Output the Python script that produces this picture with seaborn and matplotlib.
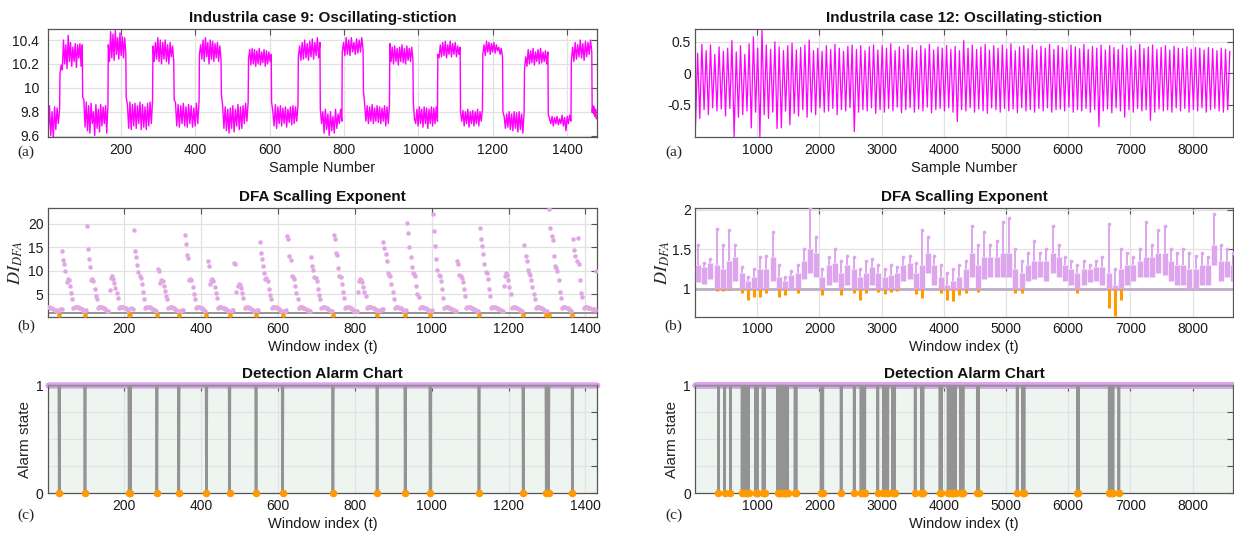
import numpy as np
import matplotlib
matplotlib.use("Agg")
import matplotlib.pyplot as plt
import seaborn as sns

# ---------------------------------------------------------------------------
# Industrial case 9: controller output, one list of values per plateau
# (low / high alternating), each plateau starting at the given sample.
# ---------------------------------------------------------------------------
case9_plateau_start = [1, 36, 97, 166, 214, 286, 343, 411, 470, 543, 605, 677, 736,
                       795, 852, 923, 986, 1052, 1113, 1173, 1227, 1285, 1349, 1411, 1467]
case9_last_sample = 1480
case9_plateaus = [
    [9.80, 9.62, 9.85, 9.60, 9.80, 9.58, 9.84, 9.65, 9.83, 9.70, 9.82],
    [10.12, 10.19, 10.15, 10.40, 10.20, 10.36, 10.16, 10.44, 10.22, 10.38, 10.18, 10.34, 10.22, 10.37, 10.17, 10.36, 10.25, 10.37, 10.18, 10.36],
    [9.92, 9.90, 9.67, 9.88, 9.64, 9.85, 9.62, 9.87, 9.70, 9.80, 9.60, 9.86, 9.66, 9.82, 9.63, 9.86, 9.68, 9.84, 9.70, 9.85, 9.62, 9.86],
    [10.36, 10.22, 10.47, 10.25, 10.45, 10.23, 10.48, 10.28, 10.42, 10.24, 10.46, 10.27, 10.43, 10.25, 10.42, 10.30],
    [9.92, 9.86, 9.66, 9.88, 9.65, 9.86, 9.68, 9.87, 9.66, 9.85, 9.70, 9.88, 9.65, 9.86, 9.67, 9.84, 9.65, 9.87, 9.68, 9.88, 9.70, 9.90],
    [10.35, 10.22, 10.38, 10.24, 10.42, 10.22, 10.40, 10.20, 10.38, 10.24, 10.40, 10.22, 10.36, 10.20, 10.38, 10.26, 10.35, 10.22],
    [9.90, 9.88, 9.68, 9.86, 9.67, 9.85, 9.70, 9.87, 9.68, 9.84, 9.67, 9.86, 9.70, 9.85, 9.67, 9.83, 9.68, 9.87, 9.70, 9.88],
    [10.28, 10.36, 10.24, 10.40, 10.22, 10.42, 10.26, 10.38, 10.20, 10.40, 10.24, 10.39, 10.22, 10.37, 10.25, 10.38, 10.22, 10.35, 10.24],
    [9.95, 9.85, 9.66, 9.84, 9.64, 9.82, 9.62, 9.83, 9.66, 9.85, 9.63, 9.82, 9.68, 9.86, 9.65, 9.84, 9.66, 9.85, 9.70, 9.87, 9.72, 9.88],
    [10.24, 10.32, 10.19, 10.33, 10.20, 10.32, 10.18, 10.31, 10.20, 10.33, 10.19, 10.30, 10.21, 10.32, 10.18, 10.31, 10.20, 10.30, 10.22, 10.28],
    [9.88, 9.80, 9.68, 9.86, 9.66, 9.84, 9.70, 9.85, 9.68, 9.83, 9.70, 9.84, 9.67, 9.82, 9.71, 9.84, 9.69, 9.85, 9.70, 9.84, 9.72, 9.86],
    [10.26, 10.35, 10.23, 10.38, 10.24, 10.40, 10.25, 10.37, 10.23, 10.39, 10.26, 10.41, 10.24, 10.38, 10.27, 10.42, 10.25, 10.38],
    [9.82, 9.70, 9.80, 9.62, 9.82, 9.65, 9.78, 9.60, 9.80, 9.64, 9.76, 9.62, 9.82, 9.66, 9.78, 9.70, 9.82, 9.72],
    [10.30, 10.38, 10.27, 10.42, 10.28, 10.40, 10.27, 10.42, 10.30, 10.38, 10.28, 10.41, 10.29, 10.40, 10.30, 10.42, 10.32],
    [9.97, 9.86, 9.72, 9.85, 9.70, 9.84, 9.72, 9.86, 9.70, 9.83, 9.72, 9.85, 9.71, 9.84, 9.70, 9.83, 9.72, 9.85, 9.68, 9.84, 9.70, 9.85],
    [10.37, 10.22, 10.34, 10.20, 10.35, 10.22, 10.33, 10.19, 10.34, 10.22, 10.36, 10.21, 10.33, 10.20, 10.35, 10.23, 10.33, 10.22, 10.34, 10.24],
    [9.88, 9.74, 9.70, 9.82, 9.68, 9.84, 9.70, 9.82, 9.67, 9.84, 9.70, 9.83, 9.66, 9.82, 9.70, 9.84, 9.68, 9.83, 9.70, 9.84, 9.72],
    [10.28, 10.25, 10.36, 10.26, 10.38, 10.27, 10.39, 10.25, 10.36, 10.28, 10.39, 10.26, 10.37, 10.28, 10.38, 10.26, 10.35, 10.28, 10.34],
    [9.80, 9.72, 9.81, 9.68, 9.80, 9.70, 9.82, 9.67, 9.80, 9.70, 9.81, 9.68, 9.80, 9.70, 9.82, 9.68, 9.80, 9.72, 9.82],
    [10.28, 10.36, 10.27, 10.39, 10.30, 10.38, 10.28, 10.37, 10.30, 10.38, 10.29, 10.36, 10.31, 10.34, 10.28, 10.33, 10.26],
    [9.80, 9.76, 9.66, 9.78, 9.67, 9.80, 9.65, 9.78, 9.64, 9.80, 9.66, 9.79, 9.63, 9.80, 9.65, 9.78, 9.62, 9.80],
    [10.15, 10.26, 10.18, 10.32, 10.20, 10.31, 10.21, 10.33, 10.19, 10.30, 10.22, 10.32, 10.20, 10.33, 10.21, 10.30, 10.22, 10.31, 10.20, 10.30],
    [9.78, 9.74, 9.70, 9.76, 9.68, 9.75, 9.70, 9.76, 9.69, 9.74, 9.70, 9.77, 9.68, 9.75, 9.64, 9.76, 9.70, 9.77, 9.72],
    [10.22, 10.34, 10.22, 10.38, 10.24, 10.36, 10.26, 10.40, 10.25, 10.37, 10.23, 10.39, 10.26, 10.38, 10.28, 10.40, 10.30],
    [9.80, 9.85, 9.78, 9.84, 9.76, 9.82, 9.74, 9.75],
]

# ---------------------------------------------------------------------------
# Industrial case 12: controller output, trough and peak of every cycle
# ---------------------------------------------------------------------------
case12_cycle_len = 69
case12_peaks = [
    0.32, 0.46, 0.36, 0.45, 0.30, 0.42, 0.35, 0.40, 0.52, 0.34,
    0.44, 0.30, 0.47, 0.58, 0.40, 0.69, 0.45, 0.38, 0.50, 0.42,
    0.36, 0.44, 0.48, 0.37, 0.41, 0.45, 0.53, 0.36, 0.40, 0.35,
    0.44, 0.38, 0.46, 0.40, 0.35, 0.43, 0.45, 0.38, 0.44, 0.36,
    0.42, 0.45, 0.37, 0.44, 0.40, 0.47, 0.36, 0.42, 0.38, 0.45,
    0.41, 0.36, 0.44, 0.39, 0.46, 0.37, 0.42, 0.40, 0.44, 0.38,
    0.43, 0.36, 0.52, 0.40, 0.45, 0.38, 0.42, 0.46, 0.37, 0.44,
    0.40, 0.45, 0.38, 0.47, 0.36, 0.42, 0.44, 0.39, 0.45, 0.37,
    0.43, 0.40, 0.46, 0.38, 0.44, 0.41, 0.37, 0.45, 0.42, 0.39,
    0.46, 0.38, 0.43, 0.40, 0.45, 0.37, 0.44, 0.41, 0.38, 0.45,
    0.40, 0.43, 0.37, 0.46, 0.39, 0.42, 0.45, 0.38, 0.41, 0.44,
    0.37, 0.43, 0.40, 0.39, 0.42, 0.38, 0.41, 0.40, 0.37, 0.41,
    0.39, 0.36, 0.40, 0.38, 0.35,
]
case12_troughs = [
    -0.84, -0.72, -0.58, -0.66, -0.55, -0.60, -0.57, -0.68, -0.56, -1.01,
    -0.70, -0.66, -0.60, -0.87, -0.62, -1.01, -0.66, -0.72, -0.62, -0.88,
    -0.87, -0.60, -0.82, -0.64, -0.68, -0.58, -0.70, -0.62, -0.66, -0.55,
    -0.62, -0.60, -0.56, -0.66, -0.58, -0.60, -0.55, -0.93, -0.62, -0.58,
    -0.60, -0.55, -0.64, -0.58, -0.62, -0.56, -0.60, -0.54, -0.63, -0.58,
    -0.55, -0.62, -0.57, -0.60, -0.54, -0.63, -0.58, -0.56, -0.60, -0.55,
    -0.62, -0.77, -0.58, -0.60, -0.55, -0.62, -0.57, -0.60, -0.64, -0.55,
    -0.58, -0.62, -0.56, -0.60, -0.57, -0.63, -0.55, -0.60, -0.58, -0.62,
    -0.56, -0.60, -0.55, -0.62, -0.58, -0.57, -0.60, -0.54, -0.62, -0.58,
    -0.60, -0.56, -0.62, -0.58, -0.85, -0.60, -0.57, -0.63, -0.55, -0.60,
    -0.70, -0.58, -0.62, -0.56, -0.60, -0.58, -0.75, -0.62, -0.57, -0.60,
    -0.58, -0.62, -0.55, -0.60, -0.56, -0.62, -0.58, -0.60, -0.55, -0.62,
    -0.58, -0.56, -0.60, -0.62, -0.58,
]

# ---------------------------------------------------------------------------
# DFA index, case 9: runs of values (every 3rd window) starting at given windows
# ---------------------------------------------------------------------------
dfa9_step = 3
dfa9_run_start = [1, 38, 102, 162, 225, 288, 357, 417, 486, 552, 624, 686, 745,
                  807, 874, 936, 1003, 1066, 1125, 1187, 1241, 1306, 1368]
dfa9_runs = [
    [2.2, 2.2, 2.15, 2.05, 1.95, 1.85, 1.7, 1.55, 1.4, 1.2, 0.55, 1.8, 1.9],
    [14.3, 12.2, 11.5, 10.0, 7.6, 8.2, 8.0, 6.8, 5.2, 4.0, 2.1, 2.25, 2.3, 2.25, 2.2, 2.1, 1.95, 1.8, 1.6, 1.4, 0.6, 1.7],
    [19.6, 14.7, 12.5, 10.8, 8.0, 8.3, 7.7, 6.0, 4.7, 4.0, 2.1, 2.3, 2.3, 2.25, 2.15, 2.05, 1.9, 1.7, 1.5, 1.3],
    [5.8, 8.5, 8.8, 8.3, 7.4, 6.4, 5.3, 4.2, 2.1, 2.2, 2.3, 2.3, 2.2, 2.1, 1.95, 1.75, 1.5, 0.5, 0.8, 2.1, 1.9],
    [18.6, 14.3, 13.0, 11.3, 9.8, 8.8, 8.5, 7.2, 5.5, 4.0, 2.1, 2.25, 2.3, 2.25, 2.2, 2.05, 1.9, 1.75, 1.55, 1.3, 0.55],
    [10.4, 10.0, 7.4, 8.0, 7.7, 6.8, 5.6, 4.5, 4.0, 2.1, 2.2, 2.3, 2.25, 2.15, 2.05, 1.9, 1.7, 1.5, 0.6, 1.4, 1.5, 1.6, 1.7],
    [17.7, 15.6, 13.3, 12.6, 8.0, 8.3, 8.0, 6.5, 5.0, 4.0, 2.1, 2.25, 2.3, 2.2, 2.1, 2.0, 1.8, 1.6, 1.4, 0.6],
    [12.0, 11.0, 7.2, 8.0, 8.2, 7.8, 6.6, 5.2, 4.2, 2.1, 2.25, 2.3, 2.25, 2.15, 2.05, 1.9, 1.75, 1.6, 1.45, 0.55, 1.5, 1.6, 1.7],
    [11.7, 11.5, 5.5, 6.8, 7.1, 7.0, 6.4, 5.2, 4.2, 2.1, 2.25, 2.3, 2.2, 2.1, 2.0, 1.9, 1.7, 1.5, 1.3, 0.6, 1.6, 1.7],
    [16.2, 13.8, 12.5, 11.0, 9.5, 8.2, 8.4, 7.8, 6.2, 4.8, 4.0, 2.1, 2.25, 2.3, 2.25, 2.15, 2.05, 1.9, 1.7, 1.5, 0.55, 1.4, 1.5, 1.6],
    [17.5, 16.8, 13.2, 12.3, 8.8, 8.6, 8.2, 6.8, 5.2, 4.0, 2.1, 2.25, 2.3, 2.2, 2.1, 2.0, 1.85, 1.7, 1.55, 1.4, 1.3],
    [12.9, 11.0, 10.2, 8.6, 8.4, 7.8, 6.2, 4.8, 4.0, 2.1, 2.25, 2.3, 2.2, 2.1, 2.0, 1.85, 1.7, 1.5, 1.3, 0.55],
    [17.7, 16.8, 13.8, 13.3, 10.5, 8.8, 8.6, 7.2, 5.5, 4.2, 2.1, 2.25, 2.3, 2.25, 2.15, 2.05, 1.9, 1.7, 1.5, 1.35, 1.3],
    [5.5, 7.8, 8.3, 8.0, 7.5, 6.5, 5.5, 4.5, 2.1, 2.2, 2.3, 2.25, 2.2, 2.1, 2.0, 1.85, 1.7, 0.55, 1.5, 1.6, 1.7, 1.8, 1.8],
    [16.1, 14.8, 13.5, 12.0, 9.5, 9.0, 8.8, 7.2, 5.5, 4.0, 2.1, 2.25, 2.3, 2.2, 2.1, 2.0, 1.85, 1.7, 1.5, 0.55, 1.6],
    [20.1, 18.0, 15.0, 13.0, 10.8, 9.5, 9.2, 8.8, 6.8, 5.0, 4.3, 2.1, 2.25, 2.3, 2.25, 2.15, 2.0, 1.85, 1.7, 1.5, 0.6, 1.5, 1.6],
    [22.0, 18.4, 15.2, 12.4, 10.2, 9.0, 8.8, 7.8, 6.2, 4.2, 2.1, 2.25, 2.3, 2.25, 2.15, 2.05, 1.9, 1.75, 1.6, 1.45, 1.35],
    [12.1, 11.4, 9.0, 8.8, 8.4, 7.5, 6.0, 4.6, 2.1, 2.25, 2.3, 2.25, 2.15, 2.05, 1.9, 1.75, 1.6, 1.45, 1.35, 0.6],
    [19.0, 16.8, 15.2, 13.5, 11.5, 9.8, 9.5, 8.2, 6.0, 4.6, 2.1, 2.25, 2.3, 2.25, 2.15, 2.05, 1.9, 1.75, 1.6, 1.5, 1.4],
    [6.8, 8.8, 9.4, 9.1, 8.0, 6.5, 5.0, 2.1, 2.25, 2.3, 2.25, 2.15, 2.0, 1.85, 1.7, 1.5, 1.35, 0.55],
    [15.5, 13.2, 12.0, 10.2, 9.5, 9.0, 8.0, 6.5, 5.0, 4.0, 2.1, 2.25, 2.3, 2.2, 2.1, 2.0, 1.85, 1.7, 1.5, 0.6, 1.4, 0.5],
    [23.2, 19.1, 17.5, 16.6, 13.2, 11.0, 10.5, 10.0, 8.0, 5.5, 4.2, 2.1, 2.25, 2.3, 2.2, 2.1, 2.0, 1.85, 1.7, 1.5, 0.55],
    [16.8, 14.5, 13.2, 12.0, 17.0, 11.5, 8.0, 5.2, 4.4, 2.1, 2.2, 2.25, 2.2, 2.1, 2.0, 1.95, 1.9, 1.85, 1.8, 1.7, 10.0],
]
dfa9_windows = 1430

# ---------------------------------------------------------------------------
# DFA index, case 12: per 100-window bin, band low / band high / highest value
# ---------------------------------------------------------------------------
dfa12_bin = 100
dfa12_low = [
    1.08, 1.06, 1.12, 0.97, 0.97, 0.98, 1.10, 0.95, 0.86, 0.90,
    0.90, 0.95, 1.10, 0.90, 0.92, 1.00, 0.94, 1.12, 1.20, 1.15,
    0.92, 1.05, 1.08, 0.92, 1.05, 0.95, 0.86, 0.95, 1.05, 0.96,
    0.93, 0.96, 0.97, 1.10, 1.12, 0.93, 0.88, 1.20, 1.05, 0.95,
    0.86, 0.85, 0.92, 0.95, 1.15, 0.96, 1.12, 1.15, 1.15, 1.15,
    1.15, 0.95, 0.94, 1.10, 1.12, 1.15, 1.10, 1.20, 1.15, 1.10,
    1.05, 0.95, 1.05, 1.08, 1.10, 1.05, 0.75, 0.65, 0.86, 1.05,
    1.10, 1.15, 1.15, 1.15, 1.20, 1.18, 1.10, 1.05, 1.05, 1.00,
    1.00, 1.05, 1.05, 1.30, 1.10, 1.15, 1.10,
]
dfa12_high = [
    1.30, 1.28, 1.32, 1.30, 1.25, 1.35, 1.40, 1.20, 1.10, 1.15,
    1.25, 1.25, 1.40, 1.15, 1.10, 1.18, 1.20, 1.35, 1.50, 1.45,
    1.15, 1.30, 1.32, 1.20, 1.30, 1.25, 1.15, 1.20, 1.28, 1.20,
    1.15, 1.18, 1.20, 1.30, 1.32, 1.20, 1.30, 1.45, 1.30, 1.15,
    1.05, 1.10, 1.15, 1.25, 1.45, 1.30, 1.40, 1.40, 1.40, 1.45,
    1.45, 1.25, 1.20, 1.30, 1.35, 1.35, 1.35, 1.45, 1.40, 1.30,
    1.25, 1.20, 1.25, 1.25, 1.28, 1.28, 1.20, 1.05, 1.25, 1.30,
    1.30, 1.35, 1.40, 1.40, 1.45, 1.45, 1.35, 1.30, 1.30, 1.25,
    1.25, 1.30, 1.30, 1.55, 1.35, 1.35, 1.30,
]
dfa12_peak = [
    1.55, 1.32, 1.38, 1.76, 1.55, 1.74, 1.55, 1.28, 1.15, 1.25,
    1.40, 1.42, 1.72, 1.30, 1.15, 1.22, 1.30, 1.50, 2.02, 1.65,
    1.25, 1.40, 1.50, 1.35, 1.42, 1.40, 1.25, 1.35, 1.38, 1.30,
    1.25, 1.30, 1.28, 1.40, 1.42, 1.32, 1.75, 1.65, 1.42, 1.30,
    1.20, 1.25, 1.30, 1.35, 1.80, 1.55, 1.72, 1.55, 1.60, 1.85,
    1.90, 1.50, 1.35, 1.45, 1.60, 1.45, 1.50, 1.80, 1.55, 1.40,
    1.35, 1.30, 1.35, 1.30, 1.35, 1.40, 1.82, 1.25, 1.50, 1.45,
    1.40, 1.50, 1.85, 1.55, 1.75, 1.80, 1.50, 1.45, 1.50, 1.45,
    1.42, 1.45, 1.40, 1.95, 1.55, 1.50, 1.45,
]
dfa12_windows = 8650

# alarm windows of case 12 (DFA index below 1)
alarm12 = [378, 478, 569, 758, 800, 830, 845, 862, 975, 990, 1000, 1095, 1105, 1120,
           1330, 1345, 1360, 1390, 1420, 1440, 1455, 1470, 1490, 1610, 1625, 2030,
           2045, 2055, 2350, 2560, 2670, 2690, 2710, 2730, 2940, 3030, 3050, 3080,
           3100, 3180, 3200, 3210, 3540, 3640, 3655, 3665, 3940, 3960, 4070, 4090,
           4110, 4130, 4150, 4170, 4190, 4270, 4290, 4310, 4540, 4560, 5180, 5270,
           5290, 6150, 6165, 6660, 6680, 6700, 6720, 6815]

threshold = 1.0

# ---------------------------------------------------------------------------
# styling
# ---------------------------------------------------------------------------
sns.set_theme(style="white")
plt.rcParams["font.family"] = ["Liberation Sans", "DejaVu Sans"]
plt.rcParams["mathtext.fontset"] = "stix"

MAGENTA = "#ff00ff"
PLUM = "#dea5ef"
ORANGE = "#ff9a00"
SPINE = "#555555"
GRID = "#e2e2e2"
SERIF = ["Liberation Serif", "DejaVu Serif"]

fig = plt.figure(figsize=(12.34, 5.39), dpi=100)
W, H = 1234.0, 539.0


def make_axes(x0, x1, y0, y1):
    return fig.add_axes([x0 / W, 1 - y1 / H, (x1 - x0) / W, (y1 - y0) / H])


def style(ax, title, xlabel, letter, letter_dy, ypad=3):
    ax.grid(True, color=GRID, linewidth=0.9)
    ax.set_axisbelow(True)
    for s in ax.spines.values():
        s.set_visible(True)
        s.set_color(SPINE)
        s.set_linewidth(0.9)
    ax.tick_params(direction="in", length=4, width=0.8, color=SPINE, top=True,
                   right=True, labelsize=10, labelcolor="#1a1a1a")
    ax.tick_params(axis="y", pad=ypad)
    ax.tick_params(axis="x", pad=4)
    ax.set_title(title, fontsize=11, fontweight="bold", pad=5, color="#111111")
    ax.set_xlabel(xlabel, fontsize=10.5, labelpad=3, color="#1a1a1a")
    ax.annotate(letter, xy=(0, 0), xycoords="axes fraction",
                xytext=(-15.5, -letter_dy), textcoords="offset points",
                ha="center", va="center", fontsize=11, family=SERIF, color="#222222")


LX0, LX1 = 47.7, 597.0
RX0, RX1 = 695.0, 1233.0
ROWS = [(29.3, 137.3), (208.3, 316.7), (385.3, 493.3)]

# ---------------- row 1: process signals ----------------
ax = make_axes(LX0, LX1, *ROWS[0])
ends = case9_plateau_start[1:] + [case9_last_sample + 1]
x9, y9 = [], []
for s, e, vals in zip(case9_plateau_start, ends, case9_plateaus):
    x9.extend(np.linspace(s, e - 1, len(vals)))
    y9.extend(vals)
sns.lineplot(x=np.array(x9), y=np.array(y9), ax=ax, color=MAGENTA, linewidth=1.0,
             estimator=None, sort=False)
ax.set_xlim(3, case9_last_sample)
ax.set_ylim(9.585, 10.49)
ax.set_yticks([9.6, 9.8, 10.0, 10.2, 10.4])
ax.set_yticklabels(["9.6", "9.8", "10", "10.2", "10.4"])
ax.set_xticks(range(200, 1500, 200))
style(ax, "Industrila case 9: Oscillating-stiction", "Sample Number", "(a)", 11, ypad=6)

ax = make_axes(RX0, RX1, *ROWS[0])
cyc = np.arange(len(case12_peaks))
t_tr = 1 + case12_cycle_len * cyc + 8
t_pk = 1 + case12_cycle_len * cyc + 42
x12 = np.column_stack([t_tr, t_pk]).ravel()
y12 = np.column_stack([case12_troughs, case12_peaks]).ravel()
sns.lineplot(x=x12, y=y12, ax=ax, color=MAGENTA, linewidth=0.9, estimator=None, sort=False)
ax.set_xlim(1, dfa12_windows)
ax.set_ylim(-1.02, 0.70)
ax.set_yticks([-0.5, 0, 0.5])
ax.set_yticklabels(["-0.5", "0", "0.5"])
ax.set_xticks(range(1000, 9000, 1000))
style(ax, "Industrila case 12: Oscillating-stiction", "Sample Number", "(a)", 11)

# ---------------- row 2: DFA scaling exponent ----------------
ax = make_axes(LX0, LX1, *ROWS[1])
t9, d9 = [], []
for s, vals in zip(dfa9_run_start, dfa9_runs):
    t9.extend(s + dfa9_step * np.arange(len(vals)))
    d9.extend(vals)
t9 = np.array(t9)
d9 = np.array(d9)
ax.axhline(threshold, color="#8c8c8c", linewidth=1.3, zorder=1)
hi = d9 >= threshold
sns.scatterplot(x=t9[hi], y=d9[hi], ax=ax, color=PLUM, s=9, edgecolor="#eab6cf",
                linewidth=0.3, zorder=3)
sns.scatterplot(x=t9[~hi], y=d9[~hi], ax=ax, color=ORANGE, s=9, edgecolor=ORANGE,
                linewidth=0.3, zorder=3)
ax.set_xlim(1, dfa9_windows)
ax.set_ylim(0.19, 23.3)
ax.set_yticks([5, 10, 15, 20])
ax.set_xticks(range(200, 1500, 200))
style(ax, "DFA Scalling Exponent", "Window index (t)", "(b)", 7)
ax.set_ylabel(r"$DI_{DFA}$", fontsize=13, va="center")
ax.yaxis.set_label_coords(-0.058, 0.5)

ax = make_axes(RX0, RX1, *ROWS[1])
centers = dfa12_bin * np.arange(len(dfa12_low)) + dfa12_bin / 2
low = np.array(dfa12_low)
high = np.array(dfa12_high)
peak = np.array(dfa12_peak)
ax.axhline(threshold, color="#bcaec6", linewidth=2.0, zorder=1)
# isolated high values above the main band
ax.vlines(centers, high, peak, color=PLUM, linewidth=1.4, zorder=2)
sns.scatterplot(x=centers, y=peak, ax=ax, color=PLUM, s=7, linewidth=0, zorder=3)
# main band of the index per bin, split at the alarm threshold
ax.vlines(centers, np.maximum(low, threshold), high, color=PLUM, linewidth=3.9, zorder=3)
below = low < threshold
ax.vlines(centers[below], low[below], threshold, color=ORANGE, linewidth=2.2, zorder=3)
ax.set_xlim(1, dfa12_windows)
ax.set_ylim(0.645, 2.02)
ax.set_yticks([1, 1.5, 2])
ax.set_yticklabels(["1", "1.5", "2"])
ax.set_xticks(range(1000, 9000, 1000))
style(ax, "DFA Scalling Exponent", "Window index (t)", "(b)", 7)
ax.set_ylabel(r"$DI_{DFA}$", fontsize=13, va="center")
ax.yaxis.set_label_coords(-0.059, 0.5)


# ---------------- row 3: detection alarm chart ----------------
def alarm_panel(ax, n_windows, alarms, xticks):
    ax.set_facecolor("#eef5f1")
    t = np.arange(1, n_windows + 1)
    state = np.ones(n_windows)
    state[np.asarray(alarms, dtype=int) - 1] = 0
    sns.scatterplot(x=t[state == 1], y=state[state == 1], ax=ax, color=PLUM, s=16,
                    linewidth=0, zorder=2)
    ax.collections[-1].set_clip_on(False)
    sns.lineplot(x=t, y=state, ax=ax, color="#939393", linewidth=1.9,
                 estimator=None, sort=False, zorder=3)
    sns.scatterplot(x=t[state == 0], y=state[state == 0], ax=ax, color=ORANGE, s=30,
                    linewidth=0, zorder=5)
    ax.collections[-1].set_clip_on(False)
    ax.set_xlim(1, n_windows)
    ax.set_ylim(0, 1)
    ax.set_yticks([0, 0.25, 0.5, 0.75, 1])
    ax.set_yticklabels(["0", "", "", "", "1"])
    ax.set_xticks(xticks)


ax = make_axes(LX0, LX1, *ROWS[2])
alarm9 = t9[~hi]
alarm_panel(ax, dfa9_windows, alarm9, range(200, 1500, 200))
style(ax, "Detection Alarm Chart", "Window index (t)", "(c)", 16)
ax.set_ylabel("Alarm state", fontsize=11, va="center")
ax.yaxis.set_label_coords(-0.041, 0.5)

ax = make_axes(RX0, RX1, *ROWS[2])
alarm_panel(ax, dfa12_windows, alarm12, range(1000, 9000, 1000))
style(ax, "Detection Alarm Chart", "Window index (t)", "(c)", 16)
ax.set_ylabel("Alarm state", fontsize=11, va="center")
ax.yaxis.set_label_coords(-0.042, 0.5)

fig.savefig("out.png", dpi=100, facecolor="white")
